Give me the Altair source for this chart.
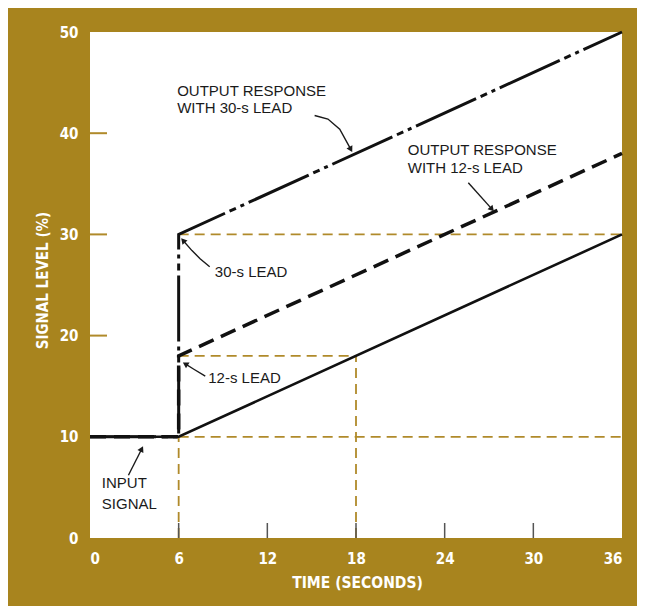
import math
import altair as alt
import pandas as pd

# ---------------- data ----------------
input_x = [0, 6, 36]
input_y = [10, 10, 30]
lead12_x = [0, 6, 6, 36]
lead12_y = [10, 10, 18, 38]
lead30_x = [0, 6, 6, 36]
lead30_y = [10, 10, 30, 50]

# brown dashed guide segments (x, y, x2, y2)
guide_x = [6, 6, 18, 6, 6]
guide_y = [30, 18, 0, 10, 0]
guide_x2 = [36, 18, 18, 36, 6]
guide_y2 = [30, 18, 18, 10, 10]

x_ticks = [0, 6, 12, 18, 24, 30, 36]
y_ticks = [0, 10, 20, 30, 40, 50]
x_inner_ticks = [6, 12, 18, 24, 30]
y_inner_ticks = [10, 20, 30, 40]

label_text = ["OUTPUT RESPONSE", "WITH 30-s LEAD", "OUTPUT RESPONSE", "WITH 12-s LEAD",
              "30-s LEAD", "12-s LEAD", "INPUT", "SIGNAL"]
label_x = [5.9, 5.9, 21.5, 21.5, 8.45, 8.0, 0.8, 0.8]
label_y = [44.15, 42.45, 38.3, 36.55, 26.3, 15.8, 5.4, 3.35]

arrow_id = [1, 1, 1, 1, 2, 2, 3, 3, 3, 3, 4, 4, 4, 5, 5]
arrow_x = [15.2, 16.1, 16.9, 17.65, 25.6, 27.2, 8.1, 7.45, 6.9, 6.3, 7.8, 7.0, 6.45, 2.6, 3.5]
arrow_y = [41.75, 41.4, 40.4, 38.4, 35.1, 32.5, 26.8, 27.6, 28.4, 29.4, 16.0, 16.7, 17.2, 6.2, 8.8]

# ---------------- layout / style ----------------
W, H = 532, 506
BG = "#a8841e"
GUIDE = "#b08a2a"
FONT_AX = "'DejaVu Sans Condensed', 'Roboto Condensed', Roboto, sans-serif"
FONT_TX = "'Liberation Sans', Arial, sans-serif"

xs = alt.Scale(domain=[0, 36], nice=False, zero=False)
ys = alt.Scale(domain=[0, 50], nice=False, zero=False)


def line_df(xv, yv):
    return pd.DataFrame({"x": xv, "y": yv, "i": list(range(len(xv)))})


x_axis = alt.Axis(values=x_ticks, domain=False, ticks=False, tickSize=0, grid=False,
                  labelColor="white", labelFont=FONT_AX, labelFontSize=15,
                  labelFontWeight="bold", labelPadding=13, labelBaseline="top",
                  title="TIME (SECONDS)", titleColor="white", titleFont=FONT_AX,
                  titleFontSize=15.5, titleFontWeight="bold", titleX=W / 2 + 1,
                  titleY=44, titleBaseline="middle", titleAnchor="middle")
y_axis = alt.Axis(values=y_ticks, domain=False, ticks=False, tickSize=0, grid=False,
                  labelColor="white", labelFont=FONT_AX, labelFontSize=15,
                  labelFontWeight="bold", labelPadding=12, labelBaseline="middle",
                  title="SIGNAL LEVEL (%)", titleColor="white", titleFont=FONT_AX,
                  titleFontSize=15, titleFontWeight="bold", titleX=-48,
                  titleY=248, titleAngle=-90, titleBaseline="middle",
                  titleAnchor="middle")

guides = alt.Chart(pd.DataFrame({"x": guide_x, "y": guide_y, "x2": guide_x2, "y2": guide_y2})).mark_rule(
    color=GUIDE, strokeWidth=1.8, strokeDash=[10, 6]
).encode(
    x=alt.X("x:Q", scale=xs, axis=x_axis),
    y=alt.Y("y:Q", scale=ys, axis=y_axis),
    x2="x2:Q", y2="y2:Q",
)

xt = alt.Chart(pd.DataFrame({"x": x_inner_ticks})).mark_rule(color="#555555", strokeWidth=1.5).encode(
    x=alt.X("x:Q", scale=xs), y=alt.value(H), y2=alt.value(H - 15)
)
yt = alt.Chart(pd.DataFrame({"y": y_inner_ticks})).mark_rule(color=GUIDE, strokeWidth=2).encode(
    y=alt.Y("y:Q", scale=ys), x=alt.value(0), x2=alt.value(17)
)

enc = dict(x=alt.X("x:Q", scale=xs), y=alt.Y("y:Q", scale=ys), order="i:O")
l30 = alt.Chart(line_df(lead30_x, lead30_y)).mark_line(
    color="#111111", strokeWidth=3, strokeDash=[66, 5, 7, 5, 4, 5], strokeCap="butt"
).encode(**enc)
l12 = alt.Chart(line_df(lead12_x, lead12_y)).mark_line(
    color="#111111", strokeWidth=3.5, strokeDash=[16, 8], strokeCap="butt"
).encode(**enc)
lin = alt.Chart(line_df(input_x, input_y)).mark_line(
    color="#111111", strokeWidth=2.6
).encode(**enc)

texts = alt.Chart(pd.DataFrame({"t": label_text, "x": label_x, "y": label_y})).mark_text(
    align="left", baseline="middle", font=FONT_TX, fontSize=15, color="#1a1a1a"
).encode(x=alt.X("x:Q", scale=xs), y=alt.Y("y:Q", scale=ys), text="t:N")

adf = pd.DataFrame({"id": arrow_id, "x": arrow_x, "y": arrow_y, "i": list(range(len(arrow_x)))})
arrows = alt.Chart(adf).mark_line(color="#1a1a1a", strokeWidth=1.4).encode(
    x=alt.X("x:Q", scale=xs), y=alt.Y("y:Q", scale=ys), detail="id:N", order="i:Q"
)
heads = []
for k in sorted(set(arrow_id)):
    idx = [j for j, a in enumerate(arrow_id) if a == k]
    j0, j1 = idx[-2], idx[-1]
    dx = (arrow_x[j1] - arrow_x[j0]) * W / 36
    dy = -(arrow_y[j1] - arrow_y[j0]) * H / 50
    ang = math.degrees(math.atan2(dx, -dy)) % 360
    heads.append({"x": arrow_x[j1], "y": arrow_y[j1], "a": ang})
hdf = pd.DataFrame(heads)
arrowheads = alt.Chart(hdf).mark_point(
    shape="triangle-up", filled=True, color="#1a1a1a", size=45, opacity=1
).encode(x=alt.X("x:Q", scale=xs), y=alt.Y("y:Q", scale=ys),
         angle=alt.Angle("a:Q", scale=None))

chart = alt.layer(guides, xt, yt, lin, l12, l30, arrows, arrowheads, texts).properties(
    width=W, height=H,
    autosize=alt.AutoSizeParams(type="none"),
    padding={"left": 82, "top": 24, "right": 15, "bottom": 68},
    background=BG,
).configure_view(fill="white", stroke=None)

chart.save("out.html", embed_options={"renderer": "svg", "actions": False})
